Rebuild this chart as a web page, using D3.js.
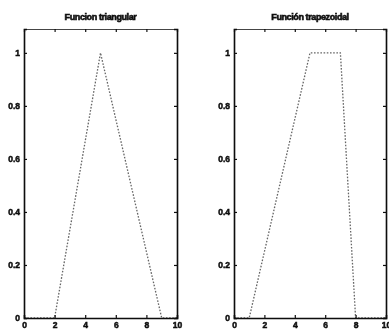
<!DOCTYPE html>
<html>
<head>
<meta charset="utf-8">
<script src="https://cdn.jsdelivr.net/npm/d3@7"></script>
<style>
  html, body { margin: 0; padding: 0; background: #fff; }
  svg { display: block; }
  text { font-family: "Liberation Sans Narrow", "Liberation Sans", Arial, sans-serif; font-weight: bold; fill: #111; }
</style>
</head>
<body>
<svg id="chart" width="389" height="329"></svg>
<script>
// Membership functions: x samples and degree of membership
const triX = [0, 2, 5, 9, 10];
const triY = [0, 0, 1, 0, 0];
const trapX = [0, 1, 5, 7, 8, 10];
const trapY = [0, 0, 1, 1, 0, 0];

const xTicks = [0, 2, 4, 6, 8, 10];
const yTicks = [0, 0.2, 0.4, 0.6, 0.8, 1];
const yTickLabels = ["0", "0.2", "0.4", "0.6", "0.8", "1"];
const titles = ["Funcion triangular", "Función trapezoidal"];

const svg = d3.select("#chart");

const defs = svg.append("defs");
defs.append("filter").attr("id", "soft")
  .append("feGaussianBlur").attr("stdDeviation", 0.45);

const panels = [
  { title: titles[0], xs: triX, ys: triY, left: 24, right: 177 },
  { title: titles[1], xs: trapX, ys: trapY, left: 234, right: 386 }
];

const plotTop = 29, plotBottom = 318;

panels.forEach(p => {
  const x = d3.scaleLinear().domain([0, 10]).range([p.left, p.right]);
  const y = d3.scaleLinear().domain([0, 1.09]).range([plotBottom, plotTop]);
  const g = svg.append("g").attr("filter", "url(#soft)");

  // curve
  const line = d3.line().x((d, i) => x(p.xs[i])).y(d => y(d));
  g.append("path")
    .datum(p.ys)
    .attr("d", line)
    .attr("fill", "none")
    .attr("stroke", "#666")
    .attr("stroke-width", 1.3)
    .attr("stroke-dasharray", "1.6,1.6");

  // axes with inward ticks on all four sides
  const axB = d3.axisBottom(x).tickValues(xTicks).tickSize(-3).tickPadding(4).tickFormat(d3.format("d"));
  const axT = d3.axisTop(x).tickValues(xTicks).tickSize(-3).tickFormat("");
  const axL = d3.axisLeft(y).tickValues(yTicks).tickSize(-3).tickPadding(4)
    .tickFormat((d, i) => yTickLabels[i]);
  const axR = d3.axisRight(y).tickValues(yTicks).tickSize(-3).tickFormat("");

  const styleAxis = (sel, color, w) => {
    sel.attr("font-family", null).attr("font-size", 8);
    sel.selectAll("path.domain").attr("stroke", color).attr("stroke-width", w);
    sel.selectAll(".tick line").attr("stroke", "#111").attr("stroke-width", 1.2);
    sel.selectAll(".tick text").attr("font-size", 8.5).attr("fill", "#111")
      .attr("stroke", "#111").attr("stroke-width", 0.5);
  };

  g.append("g").attr("transform", `translate(0,${plotBottom})`).call(axB).call(s => styleAxis(s, "#111", 1.6));
  g.append("g").attr("transform", `translate(0,${plotTop})`).call(axT).call(s => styleAxis(s, "#444", 1.2));
  g.append("g").attr("transform", `translate(${p.left},0)`).call(axL).call(s => styleAxis(s, "#111", 1.6));
  g.append("g").attr("transform", `translate(${p.right},0)`).call(axR).call(s => styleAxis(s, "#111", 1.6));

  g.append("text")
    .attr("x", (p.left + p.right) / 2)
    .attr("y", 20)
    .attr("text-anchor", "middle")
    .attr("font-size", 9)
    .attr("letter-spacing", -0.4)
    .attr("stroke", "#111")
    .attr("stroke-width", 0.6)
    .text(p.title);
});
</script>
</body>
</html>
